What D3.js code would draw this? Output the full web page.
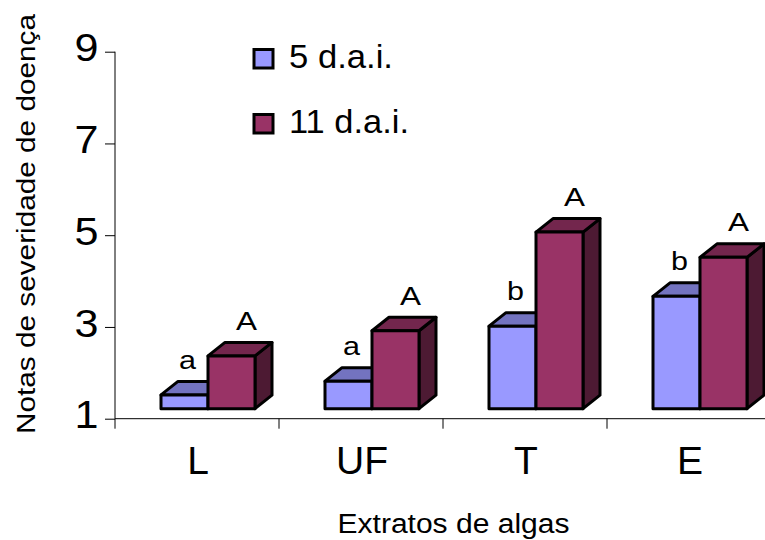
<!DOCTYPE html>
<html>
<head>
<meta charset="utf-8">
<script src="https://cdn.jsdelivr.net/npm/d3@7/dist/d3.min.js"></script>
<style>
  body { margin: 0; background: #fff; }
  text { font-family: "Liberation Sans", Arial, sans-serif; fill: #000; }
</style>
</head>
<body>
<div id="chart"></div>
<script>
const categories = ["L", "UF", "T", "E"];
const seriesNames = ["5 d.a.i.", "11 d.a.i."];
const dai5 = [1.3, 1.6, 2.8, 3.45];
const dai11 = [2.15, 2.7, 4.85, 4.3];
const letters5 = ["a", "a", "b", "b"];
const letters11 = ["A", "A", "A", "A"];
const yTicks = [1, 3, 5, 7, 9];

const width = 765, height = 540;
const svg = d3.select("#chart").append("svg")
  .attr("width", width).attr("height", height);

const x = d3.scaleBand().domain(categories).range([116, 772]);
const y = d3.scaleLinear().domain([1, 9]).range([418.7, 51.7]);

// fake 3d columns
const floor = 10, dx = 17, dy = 13.5, barW = 47, barOff = 45;
const colors = [
  { front: "#9999ff", top: "#7373c0", side: "#4d4d80" },
  { front: "#993366", top: "#73264d", side: "#4d1a33" }
];

// axes
const yAxis = svg.append("g").attr("transform", "translate(115,0)")
  .call(d3.axisLeft(y).tickValues(yTicks).tickSize(10).tickFormat(d3.format("d")));
yAxis.select(".domain").attr("d", `M0,${y(9)}V${y(1)}`);
yAxis.selectAll("line").attr("stroke", "#000");
yAxis.selectAll("text")
  .attr("x", -16.5).attr("dy", "0.24em")
  .attr("textLength", 24).attr("lengthAdjust", "spacingAndGlyphs")
  .style("font-size", "38.5px").style("font-family", "Liberation Sans, Arial, sans-serif");

const xAxis = svg.append("g").attr("transform", `translate(0,${y(1)})`)
  .call(d3.axisBottom(x).tickSize(0).tickFormat(""));
xAxis.select(".domain").attr("d", `M115,0H${width}`);
xAxis.selectAll(".tick").remove();
xAxis.selectAll("line.sep")
  .data(categories)
  .join("line")
  .attr("class", "sep")
  .attr("x1", d => x(d) - 1).attr("x2", d => x(d) - 1)
  .attr("y1", 0).attr("y2", 10)
  .attr("stroke", "#000");

svg.selectAll("text.cat")
  .data(categories)
  .join("text")
  .attr("class", "cat")
  .attr("x", d => x(d) + x.bandwidth() / 2)
  .attr("y", 474)
  .attr("text-anchor", "middle")
  .style("font-size", "39px")
  .text(d => d);

// bars
const bars = [];
categories.forEach((c, i) => {
  bars.push({ cat: c, s: 0, v: dai5[i], letter: letters5[i] });
  bars.push({ cat: c, s: 1, v: dai11[i], letter: letters11[i] });
});

const g = svg.append("g")
  .attr("stroke", "#000").attr("stroke-width", 3).attr("stroke-linejoin", "round");

bars.forEach(b => {
  const x0 = x(b.cat) + barOff + b.s * barW;
  const x1 = x0 + barW;
  const top = y(b.v) - floor;
  const base = y(1) - floor;
  const col = colors[b.s];
  g.append("path")
    .attr("d", `M${x1},${base}L${x1 + dx},${base - dy}L${x1 + dx},${top - dy}L${x1},${top}Z`)
    .attr("fill", col.side);
  g.append("path")
    .attr("d", `M${x0},${top}L${x0 + dx},${top - dy}L${x1 + dx},${top - dy}L${x1},${top}Z`)
    .attr("fill", col.top);
  g.append("rect")
    .attr("x", x0).attr("y", top)
    .attr("width", barW).attr("height", base - top)
    .attr("fill", col.front);
});

svg.selectAll("text.letter")
  .data(bars)
  .join("text")
  .attr("class", "letter")
  .attr("x", b => x(b.cat) + barOff + b.s * barW + barW / 2 + (b.s === 0 ? 3 : 15))
  .attr("y", b => y(b.v) - floor - 26)
  .attr("text-anchor", "middle")
  .attr("textLength", b => b.s === 0 ? 17 : 21)
  .attr("lengthAdjust", "spacingAndGlyphs")
  .style("font-size", "26.5px")
  .text(b => b.letter);

// legend
const legendLen = [104, 120];
const legend = svg.append("g");
seriesNames.forEach((name, i) => {
  const row = legend.append("g").attr("transform", `translate(254,${49.5 + i * 65})`);
  row.append("rect")
    .attr("width", 19).attr("height", 18.5)
    .attr("fill", colors[i].front)
    .attr("stroke", "#000").attr("stroke-width", 3);
  row.append("text")
    .attr("x", 35).attr("y", 18)
    .attr("textLength", legendLen[i]).attr("lengthAdjust", "spacingAndGlyphs")
    .style("font-size", "33px")
    .text(name);
});

// titles
svg.append("text")
  .attr("x", 337.5).attr("y", 533.3)
  .attr("textLength", 232).attr("lengthAdjust", "spacingAndGlyphs")
  .style("font-size", "27px")
  .text("Extratos de algas");

svg.append("text")
  .attr("transform", "translate(35,224) rotate(-90)")
  .attr("text-anchor", "middle")
  .attr("textLength", 420).attr("lengthAdjust", "spacingAndGlyphs")
  .style("font-size", "25px")
  .text("Notas de severidade de doença");
</script>
</body>
</html>
